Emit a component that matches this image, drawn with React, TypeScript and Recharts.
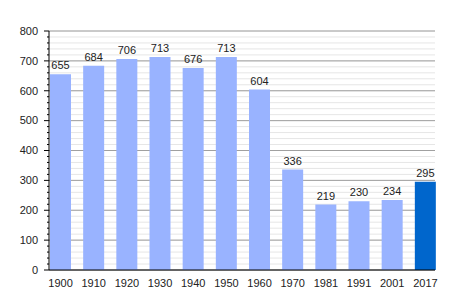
import React from "react";
import { BarChart, Bar, XAxis, YAxis, CartesianGrid, LabelList, Cell } from "recharts";

const years = ["1900", "1910", "1920", "1930", "1940", "1950", "1960", "1970", "1981", "1991", "2001", "2017"];
const population = [655, 684, 706, 713, 676, 713, 604, 336, 219, 230, 234, 295];
const highlightYear = "2017";
const yDomain: [number, number] = [0, 800];
const minorTicks = [0, 20, 40, 60, 80, 100, 120, 140, 160, 180, 200, 220, 240, 260, 280, 300, 320, 340, 360, 380, 400, 420, 440, 460, 480, 500, 520, 540, 560, 580, 600, 620, 640, 660, 680, 700, 720, 740, 760, 780, 800];
const majorTicks = [0, 100, 200, 300, 400, 500, 600, 700, 800];

const data = years.map((y, i) => ({ year: y, value: population[i] }));

const FONT = "'Liberation Sans', Arial, sans-serif";

const YTick = (props: any) => {
  const { x, y, payload } = props;
  const isMajor = majorTicks.includes(payload.value);
  return (
    <g>
      <line x1={x - (isMajor ? 5 : 2)} x2={x} y1={y} y2={y} stroke="#000" strokeWidth={1} />
      {isMajor && (
        <text x={x - 11} y={y} dy="0.35em" textAnchor="end" fontSize={11} fill="#222" fontFamily={FONT}>
          {payload.value}
        </text>
      )}
    </g>
  );
};

const majorGridGenerator = (args: any) => {
  const yAxis = args?.yAxis;
  if (yAxis && typeof yAxis.scale === "function") {
    return majorTicks.map((v) => yAxis.scale(v));
  }
  const off = args.offset;
  return majorTicks.map(
    (v) => off.top + off.height * (1 - (v - yDomain[0]) / (yDomain[1] - yDomain[0]))
  );
};

export default function App() {
  return (
    <BarChart
      width={456}
      height={292}
      data={data}
      margin={{ top: 23, right: 29, bottom: 10, left: 0 }}
      barSize={21}
    >
      <CartesianGrid vertical={false} stroke="#e6e6e6" />
      <CartesianGrid vertical={false} stroke="#a0a0a0" horizontalCoordinatesGenerator={majorGridGenerator} />
      <XAxis
        dataKey="year"
        interval={0}
        height={20}
        tickLine={false}
        axisLine={{ stroke: "#000" }}
        padding={{ left: -5, right: -7 }}
        tick={{ fontSize: 11, fill: "#222", fontFamily: FONT }}
        tickMargin={3}
      />
      <YAxis
        width={41}
        domain={yDomain}
        ticks={minorTicks}
        interval={0}
        tickLine={false}
        tickSize={0}
        tickMargin={0}
        axisLine={{ stroke: "#000" }}
        tick={<YTick />}
      />
      <Bar dataKey="value" isAnimationActive={false}>
        {data.map((d) => (
          <Cell key={d.year} fill={d.year === highlightYear ? "#0066cc" : "#99b3ff"} />
        ))}
        <LabelList dataKey="value" position="top" fontSize={11} fill="#222" fontFamily={FONT} />
      </Bar>
    </BarChart>
  );
}
